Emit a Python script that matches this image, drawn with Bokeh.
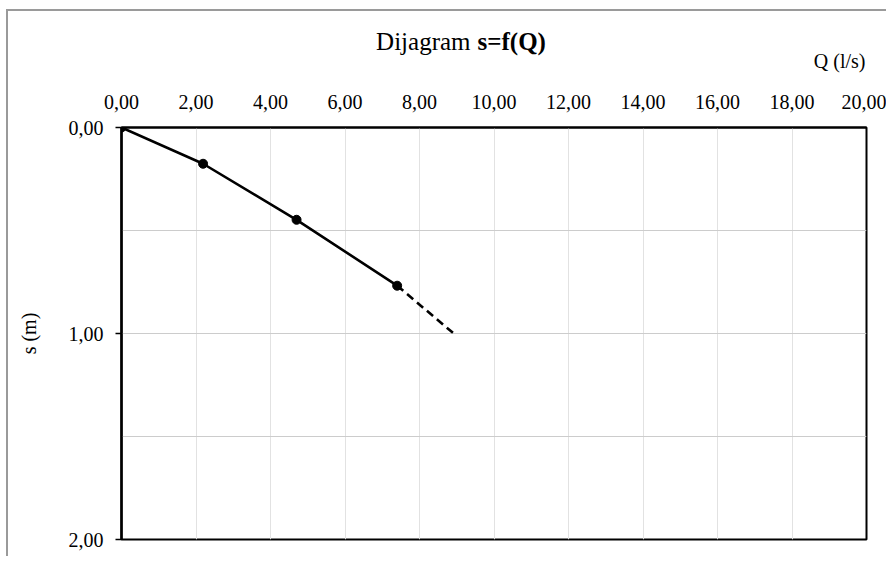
from bokeh.plotting import figure
from bokeh.layouts import column
from bokeh.models import Range1d, FixedTicker, CustomJSTickFormatter
from bokeh.core.properties import value
from bokeh.embed import file_html
from bokeh.resources import INLINE

# data
q_measured = [0.0, 2.19, 4.70, 7.40]
s_measured = [0.0, 0.176, 0.448, 0.768]
q_extrap = [7.40, 8.92]
s_extrap = [0.768, 1.00]
x_ticks = [0, 2, 4, 6, 8, 10, 12, 14, 16, 18, 20]
y_ticks = [0, 1, 2]
y_minor = [0.5, 1.5]
title_regular = ["Dijagram"]
title_bold = ["s=f(Q)"]
x_title = ["Q (l/s)"]
y_title = "s (m)"

FONT = "Liberation Serif"
W = 878
TOP_H = 65
Q_MAX = 20

# page-pixel helpers for header text placement (frame spans x 121..866)
def qx(px):
    return (px - 121) / 745 * Q_MAX

def hy(py):
    return py - 22

# ---- header strip (title and x-axis title) ----
top = figure(width=W, height=TOP_H, output_backend="svg", toolbar_location=None, title=None,
             x_range=Range1d(0, Q_MAX), y_range=Range1d(TOP_H, 0),
             x_axis_type=None, y_axis_type=None,
             min_border_left=113, min_border_right=20, min_border_top=0, min_border_bottom=0)
top.outline_line_color = None
top.background_fill_color = "white"
top.border_fill_color = "white"
top.text(x=[qx(470)], y=[hy(52)], text=title_regular, text_align="right", text_baseline="alphabetic",
         text_font=value(FONT), text_font_size="25px", text_color="black")
top.text(x=[qx(477)], y=[hy(52)], text=title_bold, text_align="left", text_baseline="alphabetic",
         text_font=value(FONT), text_font_size="25px", text_font_style="bold", text_color="black")
top.text(x=[qx(865)], y=[hy(71)], text=x_title, text_align="right", text_baseline="alphabetic",
         text_font=value(FONT), text_font_size="20px", text_color="black")

# ---- main chart ----
p = figure(width=W, height=480, output_backend="svg", toolbar_location=None, title=None,
           x_range=Range1d(0, Q_MAX), y_range=Range1d(2, 0),
           x_axis_location="above",
           min_border_left=113, min_border_right=20,
           min_border_top=51, min_border_bottom=17)
p.background_fill_color = "white"
p.border_fill_color = "white"
p.outline_line_color = "black"
p.outline_line_width = 2

fmt = CustomJSTickFormatter(code="return tick.toFixed(2).replace('.', ',');")

xa = p.xaxis[0]
xa.ticker = FixedTicker(ticks=x_ticks)
xa.formatter = fmt
xa.major_tick_out = 0
xa.major_tick_in = 0
xa.minor_tick_out = 0
xa.minor_tick_in = 0
xa.axis_line_color = "black"
xa.axis_line_width = 2
xa.major_label_standoff = 19
xa.major_label_text_font = FONT
xa.major_label_text_font_size = "20px"
xa.major_label_text_color = "black"

ya = p.yaxis[0]
ya.ticker = FixedTicker(ticks=y_ticks, minor_ticks=y_minor)
ya.formatter = fmt
ya.major_tick_out = 6
ya.major_tick_in = 0
ya.major_tick_line_color = "black"
ya.major_tick_line_width = 1.5
ya.minor_tick_out = 0
ya.minor_tick_in = 0
ya.axis_line_color = "black"
ya.axis_line_width = 2.5
ya.major_label_standoff = 12
ya.major_label_text_font = FONT
ya.major_label_text_font_size = "20px"
ya.major_label_text_color = "black"
ya.axis_label = y_title
ya.axis_label_text_font = FONT
ya.axis_label_text_font_size = "20px"
ya.axis_label_text_font_style = "normal"
ya.axis_label_text_color = "black"
ya.axis_label_standoff = 26

p.xgrid.grid_line_color = "#e2e2e2"
p.xgrid.grid_line_width = 1
p.ygrid.grid_line_color = "#cccccc"
p.ygrid.grid_line_width = 1
p.ygrid.minor_grid_line_color = "#cccccc"
p.ygrid.minor_grid_line_width = 1

p.line(q_measured, s_measured, line_color="black", line_width=2.6)
p.line(q_extrap, s_extrap, line_color="black", line_width=2.6, line_dash="8 5")
p.scatter(q_measured, s_measured, size=9, fill_color="black", line_color="black")

layout = column(top, p, spacing=0)
layout.styles = {"border-left": "2px solid #9a9a9a", "border-top": "2px solid #9a9a9a",
                 "margin-left": "6px", "margin-top": "9px"}

open("out.html", "w").write(file_html(layout, INLINE))
